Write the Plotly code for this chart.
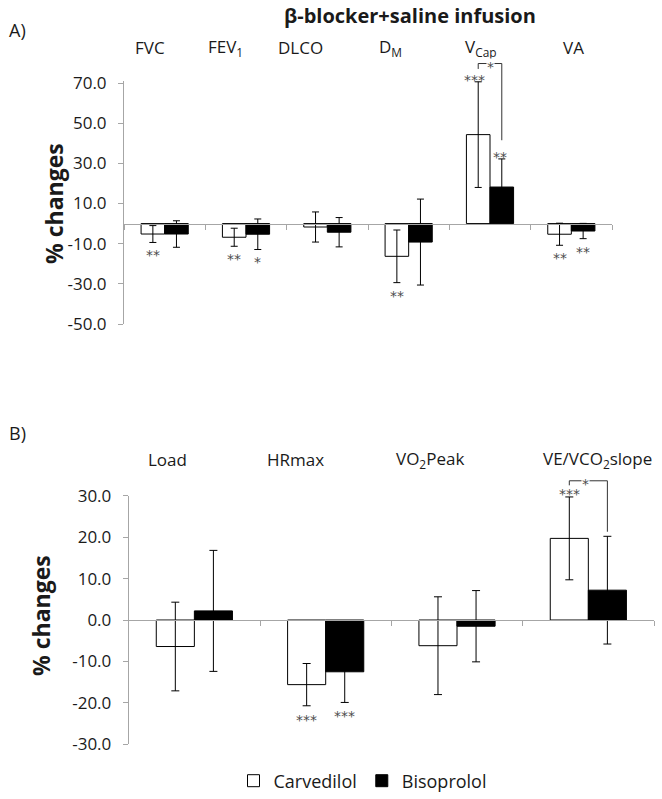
import plotly.graph_objects as go

# ---------------- data ----------------
cats_a = ["FVC", "FEV1", "DLCO", "DM", "VCap", "VA"]
labels_a = ["FVC", "FEV<sub>1</sub>", "DLCO", "D<sub>M</sub>", "V<sub>Cap</sub>", "VA"]
carv_a = [-5.2, -6.8, -1.7, -16.3, 44.3, -5.3]
carv_a_err = [4.2, 4.5, 7.5, 13.1, 26.3, 5.5]
biso_a = [-5.2, -5.3, -4.3, -9.2, 18.2, -3.7]
biso_a_err = [6.6, 7.6, 7.3, 21.4, 14.0, 3.8]

cats_b = ["Load", "HRmax", "VO2Peak", "VE/VCO2slope"]
labels_b = ["Load", "HRmax", "VO<sub>2</sub>Peak", "VE/VCO<sub>2</sub>slope"]
carv_b = [-6.4, -15.6, -6.2, 19.7]
carv_b_err = [10.7, 5.1, 11.8, 10.0]
biso_b = [2.2, -12.5, -1.5, 7.2]
biso_b_err = [14.6, 7.4, 8.6, 13.0]

ticks_a = [-50, -30, -10, 10, 30, 50, 70]
ticks_b = [-30, -20, -10, 0, 10, 20, 30]

# significance marks: (category index, series 0=carv 1=biso, text, "above"/"below", xshift px)
stars_a = [(0, 0, "**", "below", 0), (1, 0, "**", "below", 0), (1, 1, "*", "below", 0),
           (3, 0, "**", "below", 0), (4, 0, "***", "above", -4), (4, 1, "**", "above", -2),
           (5, 0, "**", "below", 0), (5, 1, "**", "below", 0)]
stars_b = [(1, 0, "***", "below", 0), (1, 1, "***", "below", 0), (3, 0, "***", "above", 0)]
# brackets: (category index, top y, left leg end y, right leg end y, text, star xshift px)
bracket_a = (4, 79.7, 77.0, 41.5, "*", 0)
bracket_b = (3, 33.6, 32.5, 21.3, "*", -3)

# ---------------- layout geometry ----------------
W, H = 662, 799
ra = [-50, 71]
rb = [-30, 30]
xa_dom = [124 / W, 612 / W]
ya_dom = [1 - 324 / H, 1 - 81 / H]
xb_dom = [128.7 / W, 654 / W]
yb_dom = [1 - 744.3 / H, 1 - 495.7 / H]
BARGAP = 0.42
OFF = (1 - BARGAP) / 4

FONT = "Open Sans"
AX_COLOR = "#a6a6a6"
TXT = "#1a1a1a"
STAR_C = "#4d4d4d"
STAR_FONT = dict(family="DejaVu Sans", size=14, color=STAR_C)


def to_paper(v, dom, rng):
    return dom[0] + (v - rng[0]) / (rng[1] - rng[0]) * (dom[1] - dom[0])


fig = go.Figure()


def add_pair(cats, carv, carv_err, biso, biso_err, xa, ya, cap, show):
    fig.add_trace(go.Bar(
        x=cats, y=carv, name="Carvedilol", xaxis=xa, yaxis=ya,
        marker=dict(color="white", line=dict(color="black", width=1)),
        error_y=dict(type="data", array=carv_err, color="black", thickness=1, width=cap),
        showlegend=show, legendgroup="c"))
    fig.add_trace(go.Bar(
        x=cats, y=biso, name="Bisoprolol", xaxis=xa, yaxis=ya,
        marker=dict(color="black", line=dict(color="black", width=1)),
        error_y=dict(type="data", array=biso_err, color="black", thickness=1, width=cap),
        showlegend=show, legendgroup="b"))


add_pair(cats_a, carv_a, carv_a_err, biso_a, biso_a_err, "x", "y", 3.5, True)
add_pair(cats_b, carv_b, carv_b_err, biso_b, biso_b_err, "x2", "y2", 4, False)

xcommon = dict(type="category", showline=True, linecolor=AX_COLOR, linewidth=1,
               ticks="outside", tickson="boundaries", ticklen=5, tickcolor=AX_COLOR,
               showticklabels=False, showgrid=False, zeroline=False, anchor="free",
               automargin=False)
ycommon = dict(showline=True, linecolor=AX_COLOR, linewidth=1, ticks="outside",
               ticklen=5, tickcolor=AX_COLOR, showgrid=False, zeroline=False,
               tickfont=dict(family=FONT, size=17, color=TXT), ticklabelstandoff=8,
               automargin=False)

fig.update_layout(
    template="none",
    width=W, height=H, margin=dict(l=0, r=0, t=0, b=0, pad=0, autoexpand=False),
    paper_bgcolor="white", plot_bgcolor="white",
    barmode="group", bargap=BARGAP, bargroupgap=0,
    font=dict(family=FONT, color=TXT),
    xaxis=dict(domain=xa_dom, position=to_paper(0, ya_dom, ra), range=[-0.5, 5.5], **xcommon),
    yaxis=dict(domain=ya_dom, range=ra, anchor="x", tickvals=ticks_a,
               ticktext=[f"{v:.1f}" for v in ticks_a], **ycommon),
    xaxis2=dict(domain=xb_dom, position=to_paper(0, yb_dom, rb), range=[-0.5, 3.5], **xcommon),
    yaxis2=dict(domain=yb_dom, range=rb, anchor="x2", tickvals=ticks_b,
                ticktext=[f"{v:.1f}" for v in ticks_b], **ycommon),
    legend=dict(orientation="h", x=0.5476, xanchor="center", y=1 - 781 / H, yanchor="middle",
                font=dict(family=FONT, size=18, color=TXT), itemwidth=30,
                bgcolor="rgba(0,0,0,0)", borderwidth=0),
)

ann = []


def txt_ann(text, x, y, size, **kw):
    d = dict(text=text, x=x, y=y, xref="paper", yref="paper", xanchor="center",
             yanchor="middle", showarrow=False, font=dict(size=size))
    d.update(kw)
    return d


# titles / panel letters
ann.append(txt_ann("<b>β-blocker+saline infusion</b>", 409.7 / W, 1 - 15 / H, 20))
ann.append(txt_ann("A)", 7 / W, 1 - 30 / H, 18, xanchor="left"))
ann.append(txt_ann("B)", 7 / W, 1 - 433 / H, 18, xanchor="left"))
ann.append(txt_ann("<b>% changes</b>", 54 / W, 1 - 204 / H, 23, textangle=-90))
ann.append(txt_ann("<b>% changes</b>", 41 / W, 1 - 616 / H, 23, textangle=-90))

# category labels above the panels
shift_a = [-15, -21, -27, -18, -9, 2]
shift_b = [-27, -30, -27, 9]
for i, lab in enumerate(labels_a):
    ann.append(txt_ann(lab, i, 1 - 47.5 / H, 17, xref="x", xshift=shift_a[i]))
for i, lab in enumerate(labels_b):
    ann.append(txt_ann(lab, i, 1 - 459 / H, 17, xref="x2", xshift=shift_b[i]))


def star_anns(stars, vals, errs, xr, dom, rng, below_px, above_px):
    out = []
    for (ci, s, txt, where, xs) in stars:
        v, e = vals[s][ci], errs[s][ci]
        y = v - e if where == "below" else v + e
        out.append(dict(text=txt, x=ci + (-OFF if s == 0 else OFF), y=to_paper(y, dom, rng),
                        xref=xr, yref="paper", xanchor="center", xshift=xs,
                        yanchor="middle", yshift=(-below_px if where == "below" else above_px),
                        showarrow=False, font=STAR_FONT))
    return out


ann += star_anns(stars_a, [carv_a, biso_a], [carv_a_err, biso_a_err], "x", ya_dom, ra, 13, 2)
ann += star_anns(stars_b, [carv_b, biso_b], [carv_b_err, biso_b_err], "x2", yb_dom, rb, 14, 3)

shapes = []


def bracket(br, xr, dom, rng):
    ci, top, le, re, txt, xs = br
    xl, xr_ = ci - OFF, ci + OFF
    tp, lp, rp = (to_paper(v, dom, rng) for v in (top, le, re))
    for (x0, y0, x1, y1) in [(xl, lp, xl, tp), (xl, tp, xr_, tp), (xr_, tp, xr_, rp)]:
        shapes.append(dict(type="line", x0=x0, y0=y0, x1=x1, y1=y1, xref=xr, yref="paper",
                           line=dict(color="#333333", width=1)))
    ann.append(dict(text=txt, x=ci, y=tp, xref=xr, yref="paper", xanchor="center", xshift=xs,
                    yanchor="middle", yshift=-3, showarrow=False, bgcolor="white", borderpad=0,
                    font=STAR_FONT))


bracket(bracket_a, "x", ya_dom, ra)
bracket(bracket_b, "x2", yb_dom, rb)

fig.update_layout(annotations=ann, shapes=shapes)
fig.write_html("out.html", config={"displayModeBar": False},
               post_script="document.body.style.margin='0';")
